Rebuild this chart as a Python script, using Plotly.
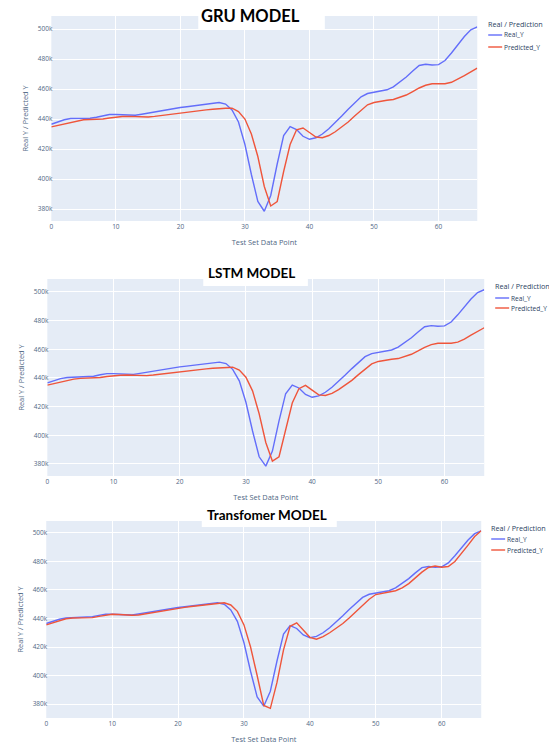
import plotly.graph_objects as go

W, H = 549, 744

x_points = list(range(67))

real_y = [436.5, 438, 439.5, 440.3, 440.5, 440.5, 440.5, 441.2, 442.2, 443, 443,
          442.8, 442.5, 442.5, 443.2, 444, 444.8, 445.5, 446.3, 447, 447.7,
          448.2, 448.8, 449.3, 449.8, 450.5, 451, 450, 446, 438, 423,
          403, 385, 378.5, 389, 410, 429, 435, 433, 428.5, 426.5,
          427.5, 430, 433.5, 437.5, 442, 446.5, 451, 454.8, 457, 457.8,
          458.2, 459.5, 461.5, 464.5, 468, 472, 475.7, 476.5, 476, 476.3,
          479, 484, 489.5, 495, 499.5, 501.5]

gru_pred = [434.8, 435.8, 437, 438, 439, 439.5, 439.7, 439.8, 440, 440.7, 441.3,
            441.7, 441.8, 441.6, 441.3, 441.4, 441.8, 442.4, 443, 443.6, 444.2,
            444.7, 445.2, 445.7, 446.1, 446.5, 447, 447.2, 447.2, 445, 440,
            430, 415, 395, 382, 385, 405, 423, 432.8, 434, 431,
            428, 427.5, 429, 431.5, 434.5, 438, 442, 446, 449.5, 451,
            452, 452.5, 453, 454.3, 456, 458.3, 460.7, 462.5, 463.5, 463.5,
            463.5, 464.5, 466.5, 469, 471.5, 474]

lstm_pred = [435.0, 436.0, 437.2, 438.3, 439.2, 439.7, 439.9, 440.0, 440.3, 441.0, 441.6,
             441.9, 442.0, 441.8, 441.5, 441.6, 442.0, 442.6, 443.2, 443.8, 444.4,
             444.9, 445.4, 445.9, 446.3, 446.8, 447.2, 447.5, 447.5, 445.5, 440.5,
             431, 415, 395, 382, 385, 404, 422.5, 432.5, 434.8, 431.5,
             428.2, 427.8, 429.2, 431.8, 434.8, 438.3, 442.3, 446.3, 449.8, 451.5,
             452.5, 453, 453.5, 454.8, 456.5, 458.8, 461.3, 463.2, 464.2, 464.2,
             464.2, 465, 467, 469.8, 472.5, 475]

transformer_pred = [435.5, 436.8, 438.5, 439.8, 440.3, 440.5, 440.5, 440.6, 441.5, 442.5, 443,
                    442.8, 442.5, 442.3, 442.5, 443.3, 444.2, 445, 445.8, 446.5, 447.2,
                    447.8, 448.4, 449, 449.4, 450, 450.8, 451, 449.5, 445, 435.5,
                    420, 400, 379, 377, 395, 418, 434.5, 437, 432, 426.8,
                    425.5, 427.3, 430, 433, 436.5, 440.5, 445, 449.5, 453.5, 456.8,
                    457.7, 458.2, 459.5, 461.5, 464.5, 468.5, 472.5, 475.8, 476.8, 476,
                    476.5, 480, 485.5, 491.5, 497.5, 501.5]

panel_titles = ["GRU MODEL", "LSTM MODEL", "Transfomer MODEL"]
predictions = [gru_pred, lstm_pred, transformer_pred]
series_names = ["Real_Y", "Predicted_Y"]

x_title = "Test Set Data Point"
y_title = "Real Y / Predicted Y"
legend_title = "Real / Prediction"

# layout geometry in pixels
panels = [
    dict(l=49.5, r=477, t=16, b=221, y_range=[372000, 508700],
         leg_x=487, leg_y=(24, 35, 47),
         box=(197, 324, 0, 30), text=(249.5, 16), tsize=16.5),
    dict(l=45.5, r=484, t=279, b=476, y_range=[371600, 509000],
         leg_x=494, leg_y=(286, 298, 308),
         box=(202, 307, 262, 286), text=(250, 273), tsize=13.5),
    dict(l=44.4, r=481, t=521, b=718, y_range=[370200, 508400],
         leg_x=490, leg_y=(528, 539, 550),
         box=(200.5, 336, 505, 527), text=(266, 514.5), tsize=13.5),
]

BLUE = "#636efa"
RED = "#EF553B"
COLORS = [BLUE, RED]
GRID = "white"
TICKCOL = "#506784"
small = 6.5

fig = go.Figure()
layout = dict(width=W, height=H, margin=dict(l=0, r=0, t=0, b=0),
              paper_bgcolor="white", plot_bgcolor="#E5ECF6", showlegend=False,
              font=dict(family="Open Sans, Noto Sans, sans-serif", size=small, color="#2a3f5f"),
              shapes=[], annotations=[])

def px(xp):
    return xp / W

def py(yp):
    return 1 - yp / H

for i, (p, pred, title) in enumerate(zip(panels, predictions, panel_titles)):
    n = "" if i == 0 else str(i + 1)
    for name, vals, col in zip(series_names, [real_y, pred], COLORS):
        fig.add_trace(go.Scatter(x=x_points, y=[v * 1000 for v in vals], mode="lines",
                                 name=name, line=dict(color=col, width=1.4),
                                 xaxis="x" + n, yaxis="y" + n))
    layout["xaxis" + n] = dict(domain=[px(p["l"]), px(p["r"])], anchor="y" + n,
                               range=[0, 66], dtick=10, tick0=0,
                               showgrid=True, gridcolor=GRID, gridwidth=0.8,
                               zeroline=False, showline=False,
                               tickfont=dict(size=small, color=TICKCOL),
                               title=dict(text=x_title, font=dict(size=7.4, color=TICKCOL), standoff=10))
    layout["yaxis" + n] = dict(domain=[py(p["b"]), py(p["t"])], anchor="x" + n,
                               range=p["y_range"], dtick=20000, tick0=0,
                               tickformat="~s",
                               showgrid=True, gridcolor=GRID, gridwidth=0.8,
                               zeroline=False, showline=False,
                               ticklabelstandoff=-2,
                               tickfont=dict(size=small, color=TICKCOL),
                               title=dict(text=y_title, font=dict(size=7.4, color=TICKCOL), standoff=8))
    # legend drawn as text + line samples
    lx = p["leg_x"]
    ty, y1, y2 = p["leg_y"]
    layout["annotations"].append(dict(text=legend_title, x=px(lx), y=py(ty), xref="paper", yref="paper",
                                      showarrow=False, xanchor="left", yanchor="middle", borderpad=0,
                                      font=dict(size=7.2, color="#2a3f5f")))
    for name, col, yy in zip(series_names, COLORS, (y1, y2)):
        layout["shapes"].append(dict(type="line", xref="paper", yref="paper",
                                     x0=px(lx + 1), x1=px(lx + 15), y0=py(yy), y1=py(yy),
                                     line=dict(color=col, width=1.4)))
        layout["annotations"].append(dict(text=name, x=px(lx + 16), y=py(yy), xref="paper", yref="paper",
                                          showarrow=False, xanchor="left", yanchor="middle", borderpad=0,
                                          font=dict(size=6.6, color="#2a3f5f")))
    x0, x1, y0, y1b = p["box"]
    layout["shapes"].append(dict(type="rect", xref="paper", yref="paper",
                                 x0=px(x0), x1=px(x1), y0=py(y1b), y1=py(y0),
                                 fillcolor="white", line=dict(width=0), layer="above"))
    tx, tyy = p["text"]
    layout["annotations"].append(dict(text="<b>" + title + "</b>", x=px(tx), y=py(tyy),
                                      xref="paper", yref="paper", showarrow=False,
                                      xanchor="center", yanchor="middle",
                                      font=dict(family="Lato, Open Sans, sans-serif", size=p["tsize"], color="black")))

# the LSTM panel's x-axis title is partly hidden under the next panel's white top
layout["shapes"].append(dict(type="rect", xref="paper", yref="paper",
                             x0=0, x1=1, y0=py(505), y1=py(498),
                             fillcolor="white", line=dict(width=0), layer="above"))

fig.update_layout(**layout)
fig.write_html("out.html",
               config={"displayModeBar": False},
               post_script="document.body.style.margin='0';"
                           "document.body.style.overflow='hidden';")
